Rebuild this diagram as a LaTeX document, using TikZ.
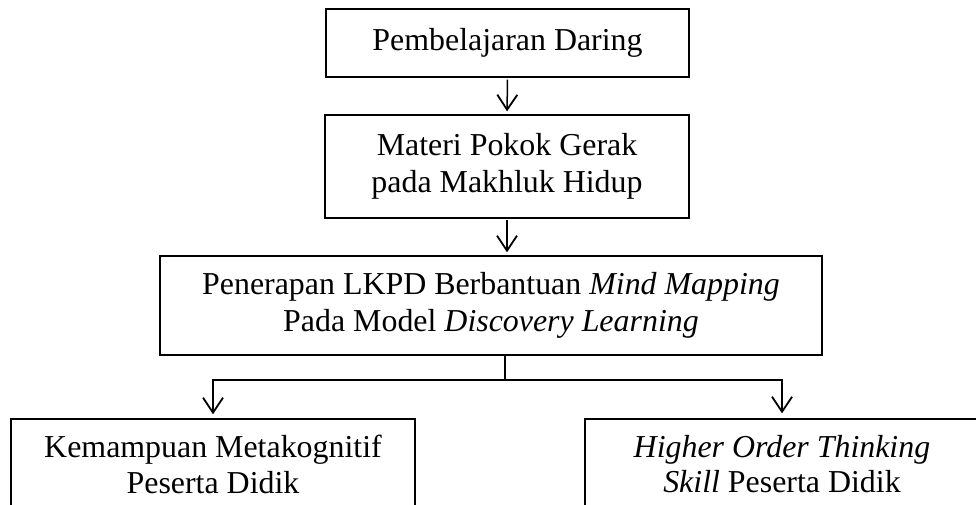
\documentclass[tikz,border=0pt]{standalone}
\usepackage{fontspec}
\setmainfont{Liberation Serif}
\usetikzlibrary{arrows.meta}
\begin{document}
\begin{tikzpicture}[x=1pt,y=-1pt,
  txt/.style={inner sep=0pt, align=center,
    font=\fontsize{31.9}{36.5}\selectfont},
  box/.style={txt, draw, line width=1.3pt},
  frame/.style={draw, line width=1.3pt, inner sep=0pt},
  arr/.style={line width=1.5pt,
    -{Straight Barb[length=15pt,width=20pt,line width=1.8pt]}}]
\useasboundingbox (0,0) rectangle (976,504);
\clip (0,0) rectangle (976,504);
\node[box, minimum width=363pt, minimum height=68pt] (b1) at (507.5,43) {Pembelajaran Daring};
\node[box, minimum width=364pt, minimum height=103pt] (b2) at (507,166.5) {Materi Pokok Gerak\\pada Makhluk Hidup};
\node[box, minimum width=662pt, minimum height=99pt] (b3) at (491,305.5) {Penerapan LKPD Berbantuan \textit{Mind Mapping}\\Pada Model \textit{Discovery Learning}};
\node[frame, minimum width=404pt, minimum height=103pt] (b4) at (213,470.5) {};
\node[frame, minimum width=394pt, minimum height=103pt] (b5) at (782,470.5) {};
\node[txt, anchor=base] (t4a) at (213,457) {Kemampuan Metakognitif};
\node[txt, anchor=base] (t4b) at (213,493) {Peserta Didik};
\node[txt, anchor=base] (t5a) at (782,457) {\textit{Higher Order Thinking}};
\node[txt, anchor=base] (t5b) at (782,492) {\textit{Skill} Peserta Didik};
\draw[arr, shorten <=2pt, shorten >=3pt] (b1.south) -- (b2.north);
\draw[arr, shorten <=1pt, shorten >=3pt] (b2.south) -- (b2.south |- b3.north);
\coordinate (j) at (505,380);
\draw[line width=1.3pt] (j |- b3.south) -- (j);
\draw[arr, shorten >=4pt] (j) -| (b4.north);
\draw[arr, shorten >=5pt] (j) -| (b5.north);
\end{tikzpicture}
\end{document}
